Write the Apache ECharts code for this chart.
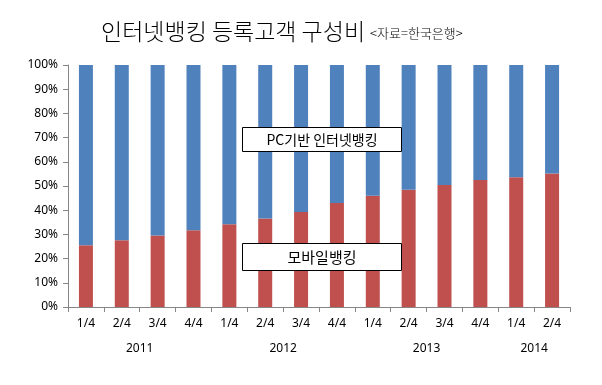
<!DOCTYPE html>
<html><head><meta charset="utf-8">
<script src="https://cdn.jsdelivr.net/npm/echarts@6/dist/echarts.min.js"></script>
<style>html,body{margin:0;padding:0;background:#fff}#c{width:602px;height:385px}</style>
</head><body><div id="c"></div>
<script>
var quarters = ['1/4','2/4','3/4','4/4','1/4','2/4','3/4','4/4','1/4','2/4','3/4','4/4','1/4','2/4'];
var years = ['2011','2012','2013','2014'];
var yearGroupSizes = [4,4,4,2];
var mobile = [25.5,27.6,29.5,31.7,34.2,36.6,39.3,43.0,46.0,48.5,50.4,52.5,53.6,55.2];
var pc = mobile.map(function(v){return +(100 - v).toFixed(1);});
var yTicks = [0,10,20,30,40,50,60,70,80,90,100];

var yearCenters = [];
var acc = 0;
yearGroupSizes.forEach(function(n){ yearCenters.push(acc + n/2); acc += n; });

var FONT = '"Noto Sans", "Noto Sans CJK KR", sans-serif';
var KFONT = '"Noto Sans CJK KR", sans-serif';
var chart = echarts.init(document.getElementById('c'));
chart.setOption({
  animation: false,
  backgroundColor: '#fff',
  title: {
    text: '{a|인터넷뱅킹 등록고객 구성비} {b|<자료=한국은행>}',
    left: 96, top: 15,
    textStyle: {
      rich: {
        a: {fontFamily: KFONT, fontSize: 23, fontWeight: 300, color: '#000'},
        b: {fontFamily: KFONT, fontSize: 13, fontWeight: 300, color: '#000', padding: [4,0,0,0]}
      }
    }
  },
  grid: {left: 68, right: 32, top: 65, bottom: 78, containLabel: false},
  xAxis: [{
    type: 'category', data: quarters, boundaryGap: true,
    axisLine: {lineStyle: {color: '#868686'}},
    axisTick: {show: true, alignWithLabel: false, length: 5, lineStyle: {color: '#868686'}},
    axisLabel: {fontFamily: FONT, fontSize: 12, color: '#000', margin: 11, interval: 0}
  }, {
    type: 'value', min: 0, max: quarters.length, position: 'bottom',
    axisLine: {show: false}, axisTick: {show: false}, splitLine: {show: false},
    axisLabel: {
      customValues: yearCenters, fontFamily: FONT, fontSize: 12, color: '#000', margin: 36,
      formatter: function(v){ var i = yearCenters.indexOf(v); return i >= 0 ? years[i] : ''; }
    }
  }],
  yAxis: {
    type: 'value', min: 0, max: 100, interval: 10,
    axisLine: {show: true, lineStyle: {color: '#868686'}},
    axisTick: {show: true, length: 5, lineStyle: {color: '#868686'}},
    splitLine: {show: false},
    axisLabel: {fontFamily: FONT, fontSize: 12, color: '#000', margin: 10,
      formatter: function(v){ return yTicks.indexOf(v) >= 0 ? v + '%' : ''; }}
  },
  series: [{
    name: '모바일뱅킹', type: 'bar', stack: 't', data: mobile, barWidth: 14,
    itemStyle: {color: '#C0504D'}
  }, {
    name: 'PC기반 인터넷뱅킹', type: 'bar', stack: 't', data: pc, barWidth: 14,
    itemStyle: {color: '#4F81BD'}
  }],
  graphic: [{
    type: 'group', left: 242, top: 127, z: 100,
    children: [
      {type: 'rect', z: 100, shape: {x: 0, y: 0, width: 159, height: 24}, style: {fill: '#fff', stroke: '#000', lineWidth: 1}},
      {type: 'text', z: 101, x: 79.5, y: 12, style: {text: 'PC기반 인터넷뱅킹', fontFamily: KFONT, fontSize: 14, fill: '#000', align: 'center', verticalAlign: 'middle'}}
    ]
  }, {
    type: 'group', left: 242, top: 243, z: 100,
    children: [
      {type: 'rect', z: 100, shape: {x: 0, y: 0, width: 159, height: 27}, style: {fill: '#fff', stroke: '#000', lineWidth: 1}},
      {type: 'text', z: 101, x: 79.5, y: 13.5, style: {text: '모바일뱅킹', fontFamily: KFONT, fontSize: 15, fill: '#000', align: 'center', verticalAlign: 'middle'}}
    ]
  }]
});
</script>
</body></html>
